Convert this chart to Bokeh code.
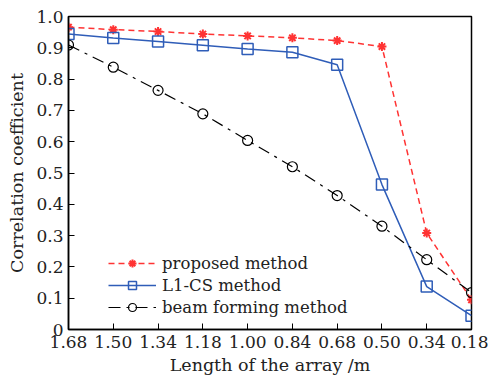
from bokeh.plotting import figure
from bokeh.models import Legend, LegendItem, FixedTicker, Range1d
from bokeh.embed import file_html
from bokeh.resources import INLINE

x_labels = ["1.68", "1.50", "1.34", "1.18", "1.00", "0.84", "0.68", "0.50", "0.34", "0.18"]
proposed = [0.966, 0.958, 0.952, 0.944, 0.938, 0.932, 0.923, 0.904, 0.308, 0.095]
l1cs = [0.944, 0.931, 0.920, 0.908, 0.896, 0.886, 0.846, 0.463, 0.137, 0.044]
beam = [0.909, 0.838, 0.764, 0.689, 0.604, 0.520, 0.428, 0.330, 0.223, 0.118]
y_ticks = [0, 0.1, 0.2, 0.3, 0.4, 0.5, 0.6, 0.7, 0.8, 0.9, 1.0]
y_labels = ["0", "0.1", "0.2", "0.3", "0.4", "0.5", "0.6", "0.7", "0.8", "0.9", "1.0"]

xs = list(range(len(x_labels)))
FONT = "DejaVu Serif"

p = figure(width=488, height=383, output_backend="svg", toolbar_location=None,
           x_range=Range1d(0, 9), y_range=Range1d(0, 1),
           min_border_left=68, min_border_right=17, min_border_top=16, min_border_bottom=54)
p.grid.visible = False
p.outline_line_color = "black"
p.outline_line_width = 1.5
p.background_fill_color = "white"
p.border_fill_color = "white"

red = "#FF3333"
blue = "#2F5DB8"

r1 = p.line(xs, proposed, line_color=red, line_width=1.5, line_dash="6 4")
m1 = p.scatter(xs, proposed, marker="asterisk", size=9, line_color=red, line_width=2)
r2 = p.line(xs, l1cs, line_color=blue, line_width=1.5)
m2 = p.scatter(xs, l1cs, marker="square", size=11, line_color=blue, fill_color=None, line_width=1.5)
r3 = p.line(xs, beam, line_color="black", line_width=1.2, line_dash="12 6 3 6")
m3 = p.scatter(xs, beam, marker="circle", size=10, line_color="black", fill_color=None, line_width=1.2)

p.xaxis.ticker = FixedTicker(ticks=xs)
p.xaxis.major_label_overrides = {i: l for i, l in zip(xs, x_labels)}
p.yaxis.ticker = FixedTicker(ticks=y_ticks)
p.yaxis.major_label_overrides = {t: l for t, l in zip(y_ticks, y_labels)}

for ax in (p.xaxis[0], p.yaxis[0]):
    ax.major_tick_in = 6
    ax.major_tick_out = 0
    ax.minor_tick_in = 0
    ax.minor_tick_out = 0
    ax.axis_line_color = "black"
    ax.axis_line_width = 1.5
    ax.major_tick_line_color = "black"
    ax.major_label_text_font = FONT
    ax.major_label_text_font_size = "17px"
    ax.major_label_text_color = "#222222"
    ax.axis_label_text_font = FONT
    ax.axis_label_text_font_size = "17.5px"
    ax.axis_label_text_font_style = "normal"
    ax.axis_label_text_color = "#222222"

p.xaxis.axis_label = "Length of the array /m"
p.yaxis.axis_label = "Correlation coefficient"
p.xaxis.major_label_standoff = 6
p.yaxis.major_label_standoff = 5
p.xaxis.axis_label_standoff = 4
p.yaxis.axis_label_standoff = 6

legend = Legend(items=[
    LegendItem(label="proposed method", renderers=[r1, m1]),
    LegendItem(label="L1-CS method", renderers=[r2, m2]),
    LegendItem(label="beam forming method", renderers=[r3, m3]),
])
legend.background_fill_alpha = 0
legend.border_line_alpha = 0
legend.label_text_font = FONT
legend.label_text_font_size = "16.5px"
legend.label_text_color = "#222222"
legend.glyph_width = 48
legend.glyph_height = 20
legend.spacing = 2
legend.label_standoff = 6
legend.label_height = 20
legend.margin = 0
legend.padding = 0
legend.location = (40, 12)
p.add_layout(legend, "center")

open("out.html", "w").write(file_html(p, INLINE))
